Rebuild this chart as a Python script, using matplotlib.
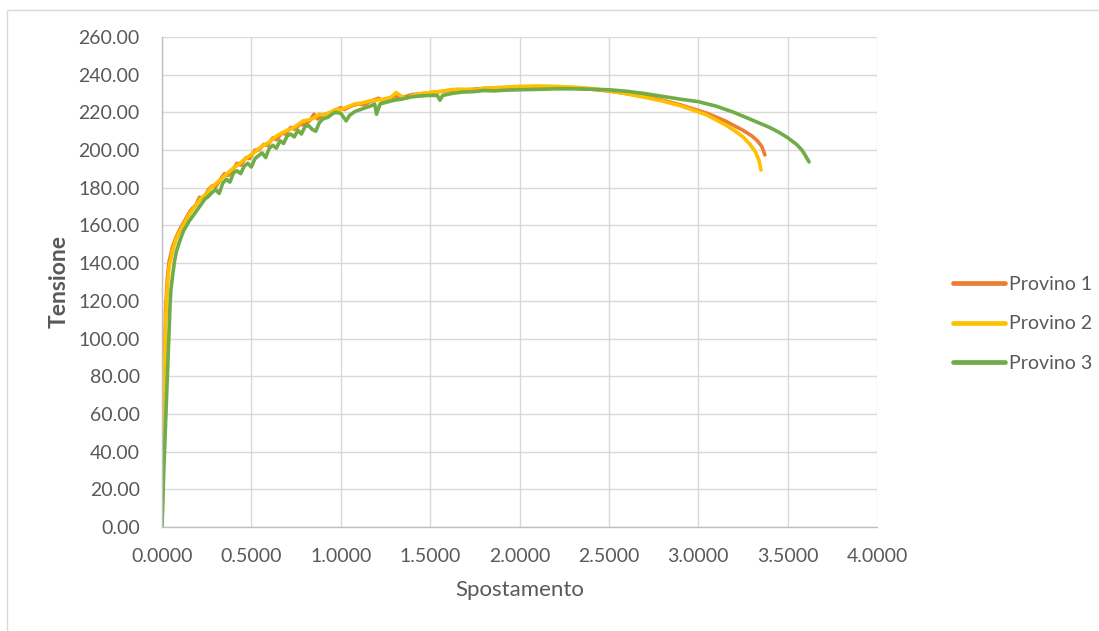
import matplotlib
matplotlib.use("Agg")
import matplotlib.pyplot as plt
from matplotlib.patches import Rectangle
from matplotlib.ticker import FormatStrFormatter, MultipleLocator

# Provino 1
x1 = [0, 0.005, 0.01, 0.015, 0.02, 0.03, 0.04, 0.06, 0.08, 0.10, 0.13, 0.16, 0.19, 0.21, 0.23,
      0.26, 0.28, 0.30, 0.33, 0.35, 0.37, 0.40, 0.42, 0.44, 0.47, 0.49, 0.52, 0.54, 0.57, 0.59,
      0.62, 0.64, 0.67, 0.69, 0.72, 0.74, 0.77, 0.80, 0.83, 0.85, 0.87, 0.90, 0.93, 0.95, 0.98,
      1.00, 1.02, 1.06, 1.10, 1.13, 1.17, 1.21, 1.23, 1.27, 1.31, 1.35, 1.40, 1.45, 1.50, 1.55,
      1.60, 1.65, 1.70, 1.80, 1.90, 2.00, 2.10, 2.20, 2.30, 2.40, 2.50, 2.60, 2.70, 2.80, 2.90,
      3.00, 3.05, 3.10, 3.15, 3.20, 3.25, 3.30, 3.33, 3.355, 3.373]
y1 = [0, 30, 62, 92, 115, 132, 141, 149, 154, 158, 163, 168, 171, 175, 174,
      179, 181, 180.5, 185, 187.5, 186.5, 190, 193, 192, 196, 195.5, 200, 200, 203, 202.5,
      206.5, 205.5, 209, 208.5, 212, 211, 213.5, 213.5, 216, 219, 216.5, 218.5, 219.5, 220, 221.5,
      222.5, 221.5, 223.5, 224.5, 224, 226, 227.5, 226.5, 227.5, 228.5, 228, 229.5, 229.8, 230.5, 231,
      231.5, 232, 232, 232.7, 233, 233.3, 233.3, 233.2, 232.9, 232.3, 231.3, 230, 228.5, 226.5, 224,
      221, 219.5, 217.5, 215.5, 213, 210.5, 207.5, 205, 202, 197.4]

# Provino 2
x2 = [0, 0.005, 0.01, 0.015, 0.02, 0.03, 0.04, 0.06, 0.08, 0.10, 0.13, 0.16, 0.19, 0.22, 0.25,
      0.28, 0.31, 0.34, 0.37, 0.40, 0.43, 0.46, 0.49, 0.52, 0.55, 0.58, 0.61, 0.64, 0.67, 0.70,
      0.73, 0.76, 0.79, 0.82, 0.85, 0.88, 0.91, 0.94, 0.97, 1.00, 1.04, 1.08, 1.12, 1.16, 1.20,
      1.24, 1.28, 1.31, 1.34, 1.37, 1.40, 1.45, 1.50, 1.55, 1.60, 1.65, 1.70, 1.75, 1.80, 1.90,
      2.00, 2.10, 2.20, 2.30, 2.40, 2.50, 2.60, 2.70, 2.80, 2.90, 3.00, 3.05, 3.10, 3.15, 3.20,
      3.25, 3.29, 3.32, 3.34, 3.351]
y2 = [0, 25, 55, 85, 108, 128, 138, 147, 153, 157, 162, 167, 171, 174.5, 177,
      180.5, 183, 185.5, 188, 190.5, 192.5, 195, 197, 199, 201.5, 203, 205, 207.5, 209, 210.5,
      211.5, 213.5, 215.5, 216, 217, 219, 218.5, 220, 221.5, 221.5, 223, 224.5, 225, 226, 226.5,
      227, 228, 230.5, 228.5, 227.5, 229, 230, 230.5, 231, 231.8, 232.3, 232.2, 231.8, 232.8, 233.3,
      233.8, 234, 233.8, 233.4, 232.7, 231.5, 229.8, 228, 226, 223.5, 220.3, 218.5, 216, 213.5, 210.5,
      207, 203, 199, 194.5, 189.4]

# Provino 3
x3 = [0, 0.005, 0.01, 0.02, 0.03, 0.04, 0.045, 0.05, 0.06, 0.07, 0.08, 0.10, 0.12, 0.15, 0.18,
      0.21, 0.24, 0.26, 0.28, 0.30, 0.32, 0.34, 0.36, 0.38, 0.40, 0.42, 0.44, 0.46, 0.48, 0.50,
      0.52, 0.54, 0.56, 0.58, 0.60, 0.62, 0.64, 0.66, 0.68, 0.70, 0.72, 0.74, 0.76, 0.78, 0.80,
      0.82, 0.84, 0.86, 0.88, 0.90, 0.93, 0.95, 0.97, 1.00, 1.03, 1.05, 1.08, 1.11, 1.14, 1.17,
      1.19, 1.20, 1.22, 1.26, 1.30, 1.34, 1.38, 1.42, 1.46, 1.50, 1.54, 1.555, 1.57, 1.62, 1.68,
      1.74, 1.80, 1.86, 1.92, 2.00, 2.10, 2.20, 2.30, 2.40, 2.50, 2.60, 2.70, 2.80, 2.90, 3.00,
      3.10, 3.20, 3.30, 3.40, 3.45, 3.50, 3.55, 3.58, 3.60, 3.62]
y3 = [0, 15, 30, 55, 80, 105, 118, 126, 134, 141, 146, 152, 157, 162, 166,
      170, 174, 175.5, 177.5, 179, 177, 182.5, 184.5, 183, 188, 189, 187.5, 191.5, 193, 191,
      195.5, 197, 198.5, 196, 201, 202.5, 201, 205, 203.5, 207.5, 208.5, 207, 210.5, 208.5, 212.5,
      213, 211, 210, 214.5, 216.5, 217.5, 219, 220, 219.5, 215.5, 218.5, 220.5, 221.5, 222.5, 223.5,
      224.5, 219, 224.5, 225.5, 226.5, 227, 228, 228.5, 228.8, 229, 229, 226.5, 229, 230, 230.8,
      231, 231.6, 231.4, 231.8, 232, 232.2, 232.5, 232.5, 232.3, 232, 231.2, 230, 228.5, 227, 225.7,
      223.3, 220, 216, 212, 209.5, 206.6, 203, 200, 197, 193.7]

series = [("Provino 1", x1, y1, "#ED7D31"),
          ("Provino 2", x2, y2, "#FFC000"),
          ("Provino 3", x3, y3, "#70AD47")]

TEXT = "#595959"
GRID = "#D9D9D9"
FONT = ["Lato", "DejaVu Sans"]
plt.rcParams["font.family"] = FONT

W, H = 1099, 631
fig = plt.figure(figsize=(W / 100, H / 100), dpi=100)
fig.patch.set_facecolor("white")

# chart-area frame
fig.patches.append(Rectangle((7 / W, -0.05), 1.2, 1 - 10 / H + 0.05,
                             transform=fig.transFigure, fill=False,
                             edgecolor=GRID, linewidth=1.0))

ax = fig.add_axes([162 / W, 1 - 527 / H, (877 - 162) / W, (527 - 37) / H])
for name, xs, ys, c in series:
    ax.plot(xs, ys, color=c, linewidth=2.6, label=name, solid_capstyle="round",
            solid_joinstyle="round")

ax.set_xlim(0, 4)
ax.set_ylim(0, 260)
ax.xaxis.set_major_locator(MultipleLocator(0.5))
ax.yaxis.set_major_locator(MultipleLocator(20))
ax.xaxis.set_major_formatter(FormatStrFormatter("%.4f"))
ax.yaxis.set_major_formatter(FormatStrFormatter("%.2f"))
ax.grid(True, color=GRID, linewidth=1.0)
ax.set_axisbelow(True)
for s in ("top", "right"):
    ax.spines[s].set_visible(False)
for s in ("left", "bottom"):
    ax.spines[s].set_color("#BFBFBF")
    ax.spines[s].set_linewidth(1.0)
ax.tick_params(length=0, labelsize=14, labelcolor=TEXT)
ax.tick_params(axis="y", pad=16)
ax.tick_params(axis="x", pad=15)

ax.set_xlabel("Spostamento", fontsize=16, color=TEXT, labelpad=11)
ax.set_ylabel("Tensione", fontsize=16.5, color=TEXT, fontweight="bold", labelpad=6)

leg = ax.legend(loc="center left", bbox_to_anchor=(935 / W, 1 - 324 / H),
                bbox_transform=fig.transFigure, frameon=False, fontsize=14,
                handlelength=2.7, handletextpad=0.2, labelspacing=1.15)
for t in leg.get_texts():
    t.set_color(TEXT)
for l in leg.get_lines():
    l.set_linewidth(3.4)

fig.savefig("out.png", dpi=100)
